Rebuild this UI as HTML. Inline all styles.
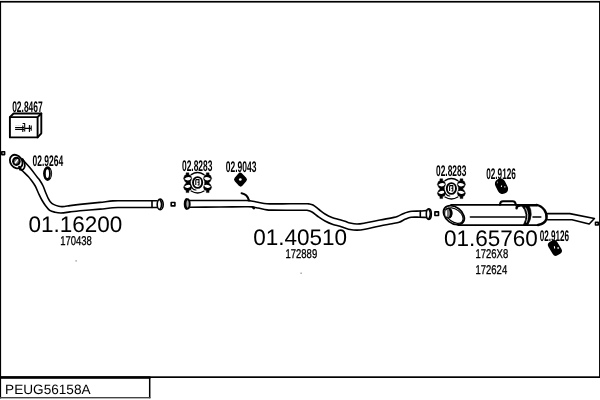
<!DOCTYPE html>
<html>
<head>
<meta charset="utf-8">
<title>PEUG56158A</title>
<style>
html,body{margin:0;padding:0;background:#fff;}
body{width:600px;height:400px;overflow:hidden;font-family:"Liberation Sans",sans-serif;}
svg{display:block;position:absolute;left:0;top:0;filter:grayscale(1);}
text{font-family:"Liberation Sans",sans-serif;fill:#000;text-rendering:geometricPrecision;}
.big{font-size:22.5px;}
.lbl{font-size:15.4px;font-weight:bold;}
.sm{font-size:12.8px;stroke:#000;stroke-width:0.3px;}
.ln{fill:none;stroke:#000;stroke-width:1.6;stroke-linecap:round;stroke-linejoin:round;}
.lnw{fill:#fff;stroke:#000;stroke-width:1.45;stroke-linejoin:round;}
.th{fill:none;stroke:#000;stroke-width:2.1;stroke-linecap:round;stroke-linejoin:round;}
</style>
</head>
<body>
<svg width="600" height="400" viewBox="0 0 600 400">
<rect x="0" y="0" width="600" height="400" fill="#fff"/>

<!-- frame -->
<g id="frame">
<rect x="0" y="0.9" width="600" height="1.7" fill="#000"/>
<rect x="0" y="1" width="1.1" height="397.4" fill="#000"/>
<rect x="599.05" y="1" width="0.95" height="377" fill="#000"/>
<rect x="0" y="376.3" width="600" height="1.7" fill="#000"/>
<rect x="0" y="376.3" width="150.4" height="2.5" fill="#000"/>
<rect x="148.95" y="377" width="1.5" height="21.2" fill="#000"/>
<rect x="0" y="397" width="150.4" height="1.4" fill="#444"/>
</g>

<!-- bottom label -->
<text x="5.1" y="393.8" font-size="13.62">PEUG56158A</text>

<!-- big part numbers -->
<text class="big" x="28.5" y="232.4">01.16200</text>
<text class="big" x="253.2" y="245">01.40510</text>
<text class="big" x="444" y="245.6">01.65760</text>

<!-- small ref numbers -->
<text class="sm" transform="translate(60.2,245.2) scale(0.742,1)">170438</text>
<text class="sm" transform="translate(285.5,258) scale(0.742,1)">172889</text>
<text class="sm" transform="translate(475.5,258.4) scale(0.742,1)">1726X8</text>
<text class="sm" transform="translate(475.5,274.4) scale(0.742,1)">172624</text>

<!-- accessory labels -->
<text class="lbl" transform="translate(12.14,111.90) scale(0.549,1)">02.8467</text>
<text class="lbl" transform="translate(32.53,165.80) scale(0.552,1)">02.9264</text>
<text class="lbl" transform="translate(181.94,171.10) scale(0.548,1)">02.8283</text>
<text class="lbl" transform="translate(225.68,172.10) scale(0.553,1)">02.9043</text>
<text class="lbl" transform="translate(436.04,176.30) scale(0.545,1)">02.8283</text>
<text class="lbl" transform="translate(486.15,179.00) scale(0.534,1)">02.9126</text>
<text class="lbl" transform="translate(539.65,240.50) scale(0.530,1)">02.9126</text>


<!-- ===== front pipe ===== -->
<g id="frontpipe">
<g id="fp_paths">
<path class="ln" id="front_u" d="M22.50,159.50 C25.00,162.25 27.62,164.89 30.00,167.75 C32.62,170.90 34.97,174.27 37.50,177.50 C38.22,178.42 39.11,179.22 39.75,180.20 C40.98,182.06 42.14,183.99 43.10,186.00 C44.14,188.18 44.84,190.51 45.75,192.75 C46.47,194.51 47.15,196.30 48.00,198.00 C48.65,199.30 49.30,200.64 50.25,201.75 C51.16,202.81 52.26,203.75 53.50,204.40 C55.14,205.27 56.95,205.81 58.75,206.25 C59.97,206.55 61.25,206.67 62.50,206.60 C65.02,206.45 67.50,205.91 70.00,205.60 C73.33,205.18 76.66,204.76 80.00,204.40 C86.66,203.69 93.34,203.11 100.00,202.40 C104.34,201.94 108.66,201.31 113.00,200.90 C114.66,200.74 116.33,200.72 118.00,200.70 C123.67,200.65 129.33,200.70 135.00,200.70 C142.33,200.70 149.67,200.70 157.00,200.70"/>
<path class="ln" id="front_l" d="M19.60,167.30 C20.32,168.20 20.96,169.16 21.75,170.00 C23.93,172.32 26.33,174.43 28.50,176.75 C29.45,177.76 30.28,178.88 31.10,180.00 C32.53,181.96 34.07,183.87 35.25,186.00 C36.58,188.39 37.43,191.03 38.60,193.50 C39.68,195.78 40.74,198.07 42.00,200.25 C43.13,202.21 44.38,204.10 45.75,205.90 C46.97,207.50 48.10,209.26 49.75,210.40 C51.28,211.45 53.19,211.83 55.00,212.25 C56.96,212.70 58.98,213.05 61.00,213.00 C64.02,212.93 67.00,212.25 70.00,211.90 C73.33,211.51 76.66,211.11 80.00,210.80 C86.66,210.18 93.34,209.71 100.00,209.10 C104.34,208.71 108.66,208.19 113.00,207.80 C114.66,207.65 116.33,207.52 118.00,207.50 C123.67,207.42 129.33,207.50 135.00,207.50 C142.33,207.50 149.67,207.50 157.00,207.50"/>
</g>
<!-- end -->
<path class="ln" d="M152,200.7 L152,207.5"/>
<ellipse class="ln" cx="160.2" cy="204.4" rx="3" ry="5.3"/>
<path class="ln" d="M160,199.8 Q163.4,204.4 160,209.2"/>
<!-- flange at engine -->
<ellipse cx="16.2" cy="161.6" rx="5.8" ry="7.3" transform="rotate(-36 16.2 161.6)" fill="#fff" stroke="#000" stroke-width="1.8"/>
<ellipse cx="16.4" cy="161.3" rx="4.3" ry="4.6" fill="#000"/>
<ellipse cx="16.4" cy="161.3" rx="2.3" ry="2.6" fill="#666"/>
<path d="M15.4,162.8 L17.6,159.9" stroke="#fff" stroke-width="1.5" stroke-linecap="round" fill="none"/>
<path class="th" style="stroke-width:1.7" d="M22.6,159 Q25.8,163.4 24.4,167.6 Q23.4,169.8 21.4,170.3"/>
<path class="th" d="M19.2,166.8 L20.2,169.6"/>
</g>
<!-- little squares -->
<rect class="ln" x="1.8" y="151.8" width="2.8" height="2.8"/>
<rect class="ln" x="171.2" y="202.5" width="3.7" height="3.4"/>
<rect class="ln" x="434.9" y="211.9" width="3.6" height="3.6"/>
<rect class="ln" x="595.5" y="222.2" width="2.7" height="2.8"/>

<!-- ===== mid pipe ===== -->
<g id="midpipe">
<g id="mp_paths">
<path class="ln" id="mid_u" d="M190.00,200.50 C200.00,200.50 210.00,200.50 220.00,200.50 C228.33,200.50 236.67,200.47 245.00,200.50 C246.33,200.50 247.68,200.42 249.00,200.60 C252.02,201.02 254.99,201.77 258.00,202.30 C260.99,202.83 263.98,203.45 267.00,203.80 C268.66,203.99 270.33,203.90 272.00,203.90 C278.00,203.90 284.00,203.82 290.00,203.80 C295.33,203.78 300.67,203.77 306.00,203.80 C307.00,203.81 308.01,203.73 309.00,203.90 C310.36,204.13 311.79,204.32 313.00,205.00 C315.18,206.22 317.00,208.00 319.00,209.50 C321.00,211.00 322.87,212.69 325.00,214.00 C327.22,215.37 329.57,216.56 332.00,217.50 C334.59,218.50 337.34,219.02 340.00,219.80 C341.67,220.29 343.34,220.77 345.00,221.30 C346.68,221.84 348.28,222.61 350.00,223.00 C352.30,223.52 354.64,224.00 357.00,224.00 C359.69,224.00 362.35,223.46 365.00,223.00 C370.02,222.13 374.99,220.97 380.00,220.00 C384.66,219.10 389.35,218.34 394.00,217.40 C395.12,217.17 396.24,216.93 397.30,216.50 C399.52,215.59 401.59,214.33 403.80,213.40 C405.16,212.83 406.57,212.37 408.00,212.00 C409.31,211.66 410.65,211.41 412.00,211.30 C414.66,211.08 417.33,211.13 420.00,211.00 C422.17,210.90 424.33,210.73 426.50,210.60"/>
<path class="ln" id="mid_l" d="M190.00,207.20 C200.00,207.13 210.00,207.07 220.00,207.00 C228.33,206.94 236.67,206.83 245.00,206.80 C247.33,206.79 249.68,206.69 252.00,206.90 C254.02,207.09 256.01,207.60 258.00,208.00 C261.01,208.60 263.97,209.45 267.00,209.90 C268.65,210.15 270.33,210.08 272.00,210.10 C278.00,210.18 284.00,210.18 290.00,210.20 C294.67,210.21 299.33,210.17 304.00,210.20 C305.00,210.21 306.02,210.08 307.00,210.30 C308.72,210.69 310.47,211.14 312.00,212.00 C314.18,213.23 315.94,215.08 318.00,216.50 C320.28,218.08 322.55,219.69 325.00,221.00 C327.57,222.37 330.26,223.53 333.00,224.50 C335.27,225.30 337.69,225.63 340.00,226.30 C341.69,226.79 343.32,227.46 345.00,228.00 C346.66,228.53 348.29,229.20 350.00,229.50 C352.31,229.90 354.66,230.15 357.00,230.10 C359.68,230.05 362.36,229.67 365.00,229.20 C370.03,228.30 374.99,227.02 380.00,226.00 C383.99,225.19 388.00,224.47 392.00,223.70 C394.40,223.24 396.88,223.08 399.20,222.30 C401.46,221.54 403.40,220.02 405.60,219.10 C407.38,218.35 409.19,217.56 411.10,217.30 C413.81,216.92 416.57,217.16 419.30,217.20 C421.70,217.23 424.10,217.40 426.50,217.50"/>
</g>
<ellipse cx="187.2" cy="204" rx="2.5" ry="4.7" fill="#aaa" stroke="#000" stroke-width="1.9"/>
<path class="th" d="M186.4,199.4 Q184.2,204 186.4,208.6"/>
<path class="th" d="M241.6,193.2 Q247.4,194.2 249,200.4"/>
<path class="th" d="M252.8,207.4 L254,208.4"/>
<!-- end -->
<path class="ln" d="M420.3,211 L420.3,217.2"/>
<ellipse class="ln" cx="428.8" cy="214.1" rx="2.5" ry="5.3"/>
<path class="ln" d="M428.8,209.2 Q431.8,214 428.8,218.8"/>
</g>

<!-- ===== box 02.8467 ===== -->
<g id="box">
<path class="lnw" style="stroke-width:1.9" d="M9.9,117.1 L13.6,113.5 L41.3,113.5 L41.3,133.3 L37.6,137.4 L9.9,137.4 Z"/>
<path class="ln" style="stroke-width:1.9" d="M9.9,117.1 L37.6,117.1 L37.6,137.4 M37.6,117.1 L41.3,113.5"/>
<path class="ln" style="stroke-width:1.1;stroke-linecap:butt" d="M15.1,127.5 H24 M15.1,129.4 H24 M22.6,123.5 H24.7 V126 M22.8,125.6 V132 M24.7,126 V131.4 M24.7,128.4 H31.2 M29.4,125 V132 M31.2,125.6 V130.8"/>
<path d="M15.6,125.5 H21" stroke="#bbb" stroke-width="0.8" stroke-dasharray="1,1" fill="none"/>
</g>

<!-- ===== ring 02.9264 ===== -->
<g id="ring">
<ellipse cx="47.6" cy="173.6" rx="4.5" ry="7.3" fill="#000"/>
<ellipse cx="47.4" cy="173.7" rx="1.6" ry="4.4" fill="#fff"/>
<path d="M50.2,169.6 Q51.7,173.8 50.2,177.8" stroke="#bbb" stroke-width="0.5" fill="none"/>
</g>


<!-- ===== clamp 02.8283 (defined once, used twice) ===== -->
<defs>
<g id="clamp">
  <path class="th" style="stroke-width:1.3" d="M-6.4,-8 Q0,-12.2 6.4,-8 M-6.4,8.4 Q0,12.4 6.4,8.4"/>
  <g id="ear">
    <path d="M-11.5,-9.8 H-8.7 V-7.8 L-6.8,-7.2 L-5.8,-4.2 L-7,-1 L-7,1.2 L-5.8,4.6 L-6.8,7.3 L-8.7,7.8 V10 H-11.5 V7.8 L-13,7.1 L-14.1,4.6 L-12.8,1.8 L-11.2,0.3 L-12.8,-1.4 L-14.1,-4.2 L-13,-7.1 L-11.5,-7.8 Z" fill="#000" stroke="#000" stroke-width="0.4" stroke-linejoin="round"/>
    <path d="M-13.3,-3.5 Q-10,-7 -6.3,-4.7 Q-8.6,-0.4 -13.3,-3.5 Z" fill="#fff"/>
    <path d="M-13.3,4.1 Q-10,0.8 -6.3,2.9 Q-8.6,7.2 -13.3,4.1 Z" fill="#fff"/>
  </g>
  <use href="#ear" transform="scale(-1,1)"/>
  <ellipse cx="0" cy="-0.1" rx="4.6" ry="5.4" fill="#fff" stroke="#000" stroke-width="1.9"/>
  <path d="M-1.8,-3 L-1.8,2.4 M-1.8,-3 L1.4,-3 L1.4,-0.4 L-0.2,-0.4 M1.4,-0.4 L1.4,2.4 L0,2.4" stroke="#000" stroke-width="1.1" fill="none"/>
  <path class="ln" style="stroke-width:1.1" d="M-7.4,1.4 Q-5.4,7.6 -1.6,7.4"/>
</g>
</defs>
<use href="#clamp" transform="translate(197.6,182.6)"/>
<use href="#clamp" transform="translate(451.4,188.6)"/>

<!-- ===== hanger 02.9043 ===== -->
<g id="diamond">
<path d="M240.2,175.3 L244.3,179.6 L240.6,183.9 L236.7,179.5 Z" fill="#000" stroke="#000" stroke-width="5.2" stroke-linejoin="round"/>
<circle cx="240.3" cy="179.5" r="1.35" fill="#fff"/>
</g>

<!-- ===== hangers 02.9126 ===== -->
<g id="hang1" transform="translate(501.5,186.2) rotate(-27)">
<rect x="-5.3" y="-7.9" width="10.6" height="15.8" rx="4.6" ry="5" fill="#000"/>
<path d="M-0.4,0.6 L0.4,-0.6 M2.4,2.6 L3,1.6" stroke="#fff" stroke-width="1.1"/>
<path d="M-2.6,-4.6 L-1.4,-5.8" stroke="#999" stroke-width="0.9"/>
</g>
<g id="hang2" transform="translate(554.9,247.9) rotate(-31)">
<rect x="-5" y="-7.7" width="10" height="15.4" rx="3.4" ry="3.6" fill="#000"/>
<path d="M-0.6,0.4 L0.4,-1.6 M2.2,2.6 L3.2,0.8" stroke="#fff" stroke-width="1.1"/>
</g>

<!-- ===== muffler 01.65760 ===== -->
<g id="muffler">
<!-- body -->
<path class="ln" d="M451,204.9 L536.5,204.9"/>
<path class="ln" d="M458,225.1 L538,225.1"/>
<path class="th" style="stroke-width:2.4" d="M536.5,204.9 Q541,205.6 544.4,210 Q547.3,214 546.5,218.6 Q545.2,223.6 538,225"/>
<!-- seam -->
<path class="ln" d="M470.4,217 L524.6,217 M533,217 L540.8,217"/>
<!-- left slanted end -->
<ellipse cx="453.9" cy="215.2" rx="11.6" ry="8.1" transform="rotate(37.5 453.9 215.2)" fill="#fff" stroke="#000" stroke-width="1.7"/>
<ellipse cx="454.4" cy="215.6" rx="9.9" ry="6.3" transform="rotate(37.5 454.4 215.6)" fill="none" stroke="#000" stroke-width="1.2"/>
<!-- inlet -->
<ellipse cx="448.4" cy="213.2" rx="3.5" ry="4.9" fill="#777" stroke="#000" stroke-width="1.5"/>
<ellipse cx="446.2" cy="213.3" rx="0.9" ry="3.4" fill="#fff"/>
<path d="M449.6,208.8 Q452.8,213.2 449.6,217.8" fill="none" stroke="#000" stroke-width="2"/>
<!-- handle -->
<path class="th" d="M500,204.6 Q500.2,201.2 503,201.2 L512.6,201.2 Q515.4,201.2 515.8,204.6"/>
<!-- strap -->
<path class="th" style="stroke-width:2.5" d="M516.6,208.2 Q516.6,206 519.4,205.6"/>
<path class="th" style="stroke-width:2.2" d="M518,205.3 L537,205.3"/>
<path d="M521.6,205.6 Q529.4,214 523.4,225 L527.8,225 Q534,214 528.8,205.2 Z" fill="#000" stroke="#000" stroke-width="0.8" stroke-linejoin="round"/>
<path d="M525.4,207.6 Q529.6,214.4 526.4,222.6" stroke="#fff" stroke-width="0.8" fill="none"/>
<!-- tail pipe -->
<path class="ln" d="M547.6,213.6 L569.8,213.6 L594.4,218.5 L589.2,224 L572,219.8 L547.6,219.8"/>
</g>

<!-- tiny dots -->
<rect x="75.5" y="260.3" width="1.2" height="1.2" fill="#777"/>
<rect x="300.5" y="272.6" width="1.2" height="1.2" fill="#777"/>

</svg>
</body>
</html>
